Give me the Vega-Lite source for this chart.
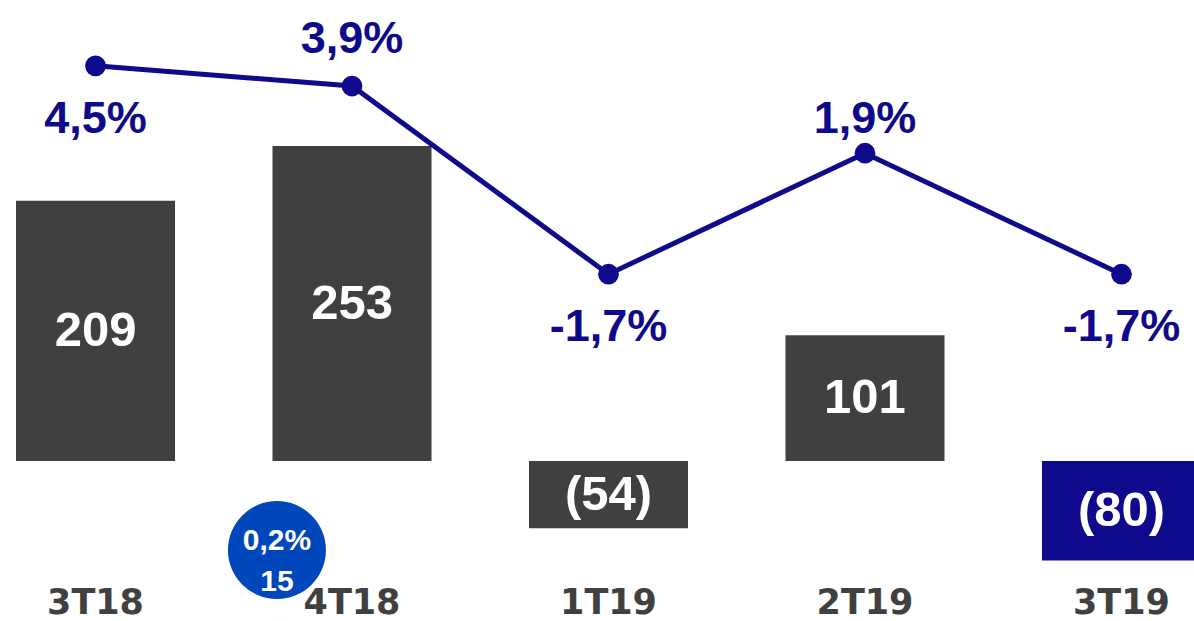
{
  "$schema": "https://vega.github.io/schema/vega-lite/v6.json",
  "width": 1194,
  "height": 621,
  "autosize": {"type": "none"},
  "padding": 0,
  "background": "white",
  "config": {"view": {"stroke": null}},
  "datasets": {
    "main": [
      {"period": "3T18", "value": 209, "label": "209", "pct": 4.5, "pctLabel": "4,5%"},
      {"period": "4T18", "value": 253, "label": "253", "pct": 3.9, "pctLabel": "3,9%"},
      {"period": "1T19", "value": -54, "label": "(54)", "pct": -1.7, "pctLabel": "-1,7%"},
      {"period": "2T19", "value": 101, "label": "101", "pct": 1.9, "pctLabel": "1,9%"},
      {"period": "3T19", "value": -80, "label": "(80)", "pct": -1.7, "pctLabel": "-1,7%"}
    ],
    "note": [{"period": "4T18", "pct": "0,2%", "amount": "15"}]
  },
  "data": {"name": "main"},
  "encoding": {
    "x": {
      "field": "period",
      "type": "nominal",
      "sort": null,
      "scale": {"range": [16, 1201], "paddingInner": 0.38, "paddingOuter": 0},
      "axis": {
        "title": null,
        "domain": false,
        "ticks": false,
        "tickSize": 0,
        "grid": false,
        "labelPadding": 0,
        "offset": -36,
        "labelAngle": 0,
        "labelBaseline": "top",
        "labelFont": "DejaVu Sans",
        "labelFontWeight": "bold",
        "labelFontSize": 35,
        "labelColor": "#404040"
      }
    }
  },
  "layer": [
    {
      "mark": {"type": "bar"},
      "encoding": {
        "y": {"field": "value", "type": "quantitative", "axis": null, "scale": {"domain": [-128.5, 370.3], "nice": false, "zero": false}},
        "y2": {"datum": 0},
        "color": {"condition": {"test": "datum.period === '3T19'", "value": "#0F0A8C"}, "value": "#404040"}
      }
    },
    {
      "transform": [{"calculate": "datum.value / 2", "as": "mid"}],
      "mark": {"type": "text", "font": "Liberation Sans", "fontWeight": "bold", "fontSize": 49, "color": "white", "baseline": "middle", "align": "center"},
      "encoding": {
        "y": {"field": "mid", "type": "quantitative", "axis": null, "scale": {"domain": [-128.5, 370.3], "nice": false, "zero": false}},
        "text": {"field": "label"}
      }
    },
    {
      "data": {"name": "note"},
      "mark": {"type": "point", "filled": true, "size": 9600, "color": "#0047BB", "opacity": 1, "shape": "circle"},
      "encoding": {
        "x": {"field": "period", "type": "nominal", "bandPosition": 0.028},
        "y": {"datum": -71.5, "type": "quantitative", "axis": null, "scale": {"domain": [-128.5, 370.3], "nice": false, "zero": false}}
      }
    },
    {
      "data": {"name": "note"},
      "mark": {"type": "text", "font": "Liberation Sans", "fontWeight": "bold", "fontSize": 30, "color": "white", "baseline": "middle", "align": "center", "dy": -9},
      "encoding": {
        "x": {"field": "period", "type": "nominal", "bandPosition": 0.028},
        "y": {"datum": -71.5, "type": "quantitative", "axis": null, "scale": {"domain": [-128.5, 370.3], "nice": false, "zero": false}},
        "text": {"field": "pct"}
      }
    },
    {
      "data": {"name": "note"},
      "mark": {"type": "text", "font": "Liberation Sans", "fontWeight": "bold", "fontSize": 30, "color": "white", "baseline": "middle", "align": "center", "dy": 32},
      "encoding": {
        "x": {"field": "period", "type": "nominal", "bandPosition": 0.028},
        "y": {"datum": -71.5, "type": "quantitative", "axis": null, "scale": {"domain": [-128.5, 370.3], "nice": false, "zero": false}},
        "text": {"field": "amount"}
      }
    },
    {
      "mark": {"type": "line", "color": "#0F0A8C", "strokeWidth": 5},
      "encoding": {
        "y": {"field": "pct", "type": "quantitative", "axis": null, "scale": {"domain": [-12.02, 6.46], "nice": false, "zero": false}}
      }
    },
    {
      "mark": {"type": "point", "filled": true, "size": 430, "color": "#0F0A8C", "opacity": 1, "shape": "circle"},
      "encoding": {
        "y": {"field": "pct", "type": "quantitative", "axis": null, "scale": {"domain": [-12.02, 6.46], "nice": false, "zero": false}}
      }
    },
    {
      "transform": [{"filter": "datum.period === '3T18' || datum.period === '1T19' || datum.period === '3T19'"}],
      "mark": {"type": "text", "font": "Liberation Sans", "fontWeight": "bold", "fontSize": 45, "color": "#0F0A8C", "baseline": "middle", "align": "center", "dy": 53},
      "encoding": {
        "y": {"field": "pct", "type": "quantitative", "axis": null, "scale": {"domain": [-12.02, 6.46], "nice": false, "zero": false}},
        "text": {"field": "pctLabel"}
      }
    },
    {
      "transform": [{"filter": "datum.period === '4T18'"}],
      "mark": {"type": "text", "font": "Liberation Sans", "fontWeight": "bold", "fontSize": 45, "color": "#0F0A8C", "baseline": "middle", "align": "center", "dy": -47},
      "encoding": {
        "y": {"field": "pct", "type": "quantitative", "axis": null, "scale": {"domain": [-12.02, 6.46], "nice": false, "zero": false}},
        "text": {"field": "pctLabel"}
      }
    },
    {
      "transform": [{"filter": "datum.period === '2T19'"}],
      "mark": {"type": "text", "font": "Liberation Sans", "fontWeight": "bold", "fontSize": 45, "color": "#0F0A8C", "baseline": "middle", "align": "center", "dy": -34},
      "encoding": {
        "y": {"field": "pct", "type": "quantitative", "axis": null, "scale": {"domain": [-12.02, 6.46], "nice": false, "zero": false}},
        "text": {"field": "pctLabel"}
      }
    }
  ],
  "resolve": {"scale": {"y": "independent"}}
}
